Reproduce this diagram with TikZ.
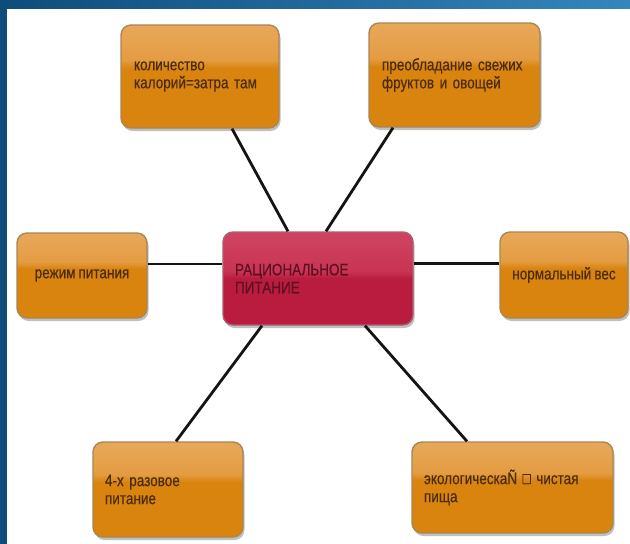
\documentclass[tikz,border=0pt]{standalone}
\usepackage{fontspec}
\setmainfont{Liberation Sans}[FakeStretch=0.82, FakeBold=0.4, WordSpace=0.8]
\usetikzlibrary{shadows}
\definecolor{orLo}{HTML}{D9840F}
\definecolor{orHi}{HTML}{E49C42}
\definecolor{orTop}{HTML}{E8A85A}
\definecolor{orEdge}{HTML}{A88752}
\definecolor{rdLo}{HTML}{B91C3E}
\definecolor{rdHi}{HTML}{C93453}
\definecolor{rdTop}{HTML}{CF4462}
\definecolor{rdEdge}{HTML}{A8606F}
\definecolor{txtBr}{HTML}{4A2C0C}
\definecolor{txtRd}{HTML}{5C1020}
\definecolor{frameL}{HTML}{0E4C7A}
\definecolor{frameR}{HTML}{3586BC}
\pgfdeclareverticalshading{orgloss}{100bp}{color(0bp)=(orLo); color(25bp)=(orLo); color(54bp)=(orLo); color(58bp)=(orHi); color(75bp)=(orTop); color(100bp)=(orTop)}
\pgfdeclareverticalshading{rdgloss}{100bp}{color(0bp)=(rdLo); color(25bp)=(rdLo); color(50bp)=(rdLo); color(54bp)=(rdHi); color(75bp)=(rdTop); color(100bp)=(rdTop)}
\tikzset{
  basebox/.style={line width=1.4pt, rounded corners=10pt, inner xsep=13pt, inner ysep=0pt,
    font=\fontsize{16.5}{18}\selectfont,
    drop shadow={shadow xshift=1.5pt, shadow yshift=-3pt, opacity=0.35, fill=black!70}},
  orbox/.style={basebox, draw=orEdge, shading=orgloss, text=txtBr},
  rdbox/.style={basebox, draw=rdEdge, shading=rdgloss, text=txtRd},
  link/.style={line width=2.8pt, draw=black!92},
}
\begin{document}
\begin{tikzpicture}[x=1pt,y=-1pt]
\useasboundingbox (0,0) rectangle (630,544);
\fill[white] (0,0) rectangle (630,544);
% frame
\shade[left color=frameL, right color=frameR] (0,0) rectangle (630,8);
\fill[frameL] (0,0) rectangle (6.5,544);
% nodes
\node[orbox, text width=132pt, minimum height=103pt, align=left] (tl) at (200,76.5) {количество\\калорий=затра там};
\node[orbox, text width=145pt, minimum height=104pt, align=left] (tr) at (454.5,75) {преобладание свежих\\фруктов и овощей};
\node[rdbox, text width=166pt, minimum height=93pt, align=left, inner xsep=12pt] (c) at (318,278.5) {РАЦИОНАЛЬНОЕ\\ПИТАНИЕ};
\node[orbox, minimum width=130pt, minimum height=85pt, align=center] (l) at (82,275.5) {режим питания};
\node[orbox, minimum width=128pt, minimum height=86pt, align=center, inner xsep=4pt] (r) at (564,275) {нормальный вес};
\node[orbox, text width=126pt, minimum height=95pt, align=left, inner xsep=12pt] (bl) at (168,489.5) {4-х разовое\\питание};
\node[orbox, text width=177pt, minimum height=91pt, align=left, inner xsep=12pt] (br) at (512.5,487.5) {экологическаÑ □ чистая\\пища};
% connectors
\draw[link] ([xshift=32pt]tl.south) -- ([xshift=-30pt]c.north);
\draw[link] ([xshift=-61.5pt]tr.south) -- ([xshift=8pt]c.north);
\draw[link] ([yshift=11.5pt]l.east) -- ([yshift=14.5pt]c.west);
\draw[link] ([yshift=15pt]c.east) -- ([yshift=11.5pt]r.west);
\draw[link] ([xshift=-56pt]c.south) -- ([xshift=8pt]bl.north);
\draw[link] ([xshift=47pt]c.south) -- ([xshift=-45.5pt]br.north);
\end{tikzpicture}
\end{document}
